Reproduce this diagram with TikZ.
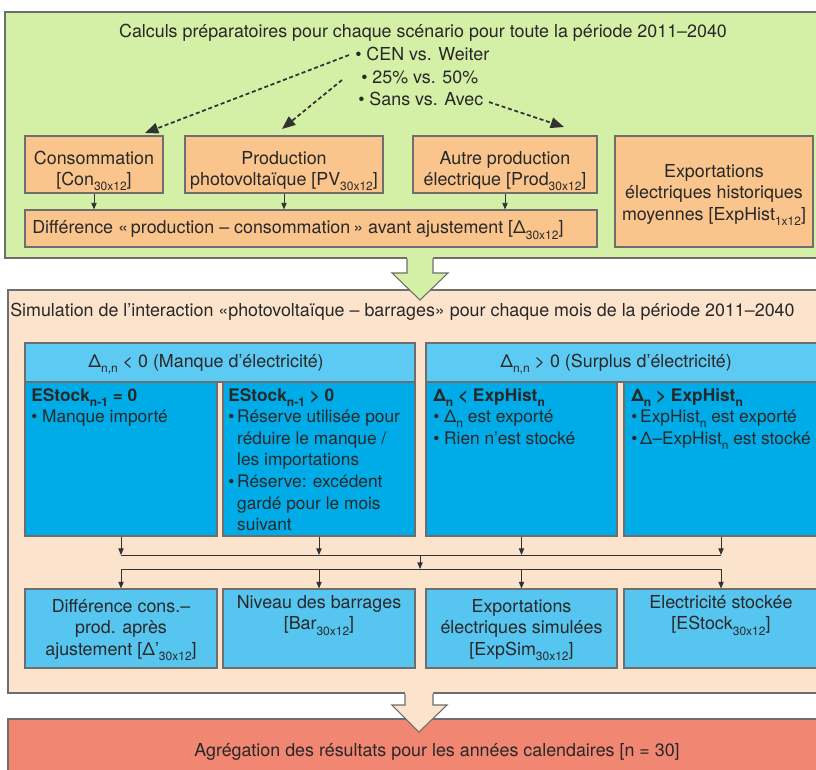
\documentclass[tikz,border=0pt]{standalone}
\usepackage{fontspec}
\setmainfont{TeX Gyre Heros}
\usetikzlibrary{arrows.meta,fit}
\definecolor{greenbg}{RGB}{212,239,166}
\definecolor{orbox}{RGB}{249,197,140}
\definecolor{peach}{RGB}{252,227,203}
\definecolor{hdrblue}{RGB}{92,202,242}
\definecolor{darkblue}{RGB}{0,172,232}
\definecolor{lblue}{RGB}{86,197,240}
\definecolor{redbg}{RGB}{241,134,114}
\definecolor{edgec}{RGB}{110,110,110}
\definecolor{txtc}{RGB}{40,40,40}
\definecolor{dashc}{RGB}{50,50,50}
\newcommand\fs{\fontsize{13.4}{16.2}\selectfont}
\newcommand\fsd{\fontsize{13}{16.2}\selectfont}
\newcommand\mysub[1]{\raisebox{-0.55ex}{\fontsize{9}{9}\selectfont #1}}
\begin{document}
\begin{tikzpicture}[x=0.75pt,y=-0.75pt,
  panel/.style={draw=edgec,line width=0.8pt,inner sep=0pt},
  obox/.style={draw=edgec,line width=0.8pt,fill=orbox,inner sep=0pt},
  hbox/.style={draw=edgec,line width=0.8pt,fill=hdrblue,inner sep=0pt},
  dbox/.style={draw=edgec,line width=0.8pt,fill=darkblue,inner sep=0pt},
  bbox/.style={draw=edgec,line width=0.8pt,fill=lblue,inner sep=0pt},
  txt/.style={inner sep=0pt,font=\fs,text=txtc,align=left},
  ctxt/.style={inner sep=0pt,font=\fs,text=txtc,align=center},
  dtxt/.style={inner sep=0pt,font=\fsd,text=txtc,align=left,anchor=north west},
  sarrow/.style={draw=dashc,line width=0.7pt,-{Triangle[length=5pt,width=4pt]}},
  sline/.style={draw=dashc,line width=0.7pt},
  darrow/.style={draw=dashc,line width=1.3pt,dash pattern=on 3pt off 2pt,-{Triangle[length=10pt,width=8pt]}}
]
\useasboundingbox (0,0) rectangle (816,769);
\clip (0,0) rectangle (816,769);
\fill[white] (0,0) rectangle (816,769);

% ---------- green panel ----------
\node[panel,fill=greenbg,fit={(5,12) (830,258)}] (green) {};
\node[txt] (title1) at (423,33) {Calculs préparatoires pour chaque scénario pour toute la période 2011–2040};
\node[txt,anchor=west] (b1) at (355,54) {• CEN vs. Weiter};
\node[txt,anchor=west] (b2) at (361,77) {• 25\% vs. 50\%};
\node[txt,anchor=west] (b3) at (358,99) {• Sans vs. Avec};

\node[obox,fit={(25,136) (163,193)}] (con) {};
\node[obox,fit={(185,136) (383,193)}] (pv) {};
\node[obox,fit={(413,136) (597,193)}] (prod) {};
\node[obox,fit={(615,136) (813,247)}] (exp) {};
\node[obox,fit={(25,210) (597,247)}] (diff) {};
\node[ctxt] (cont) at (94,171) {Consommation\\{}[Con\mysub{30x12}]};
\node[ctxt] (pvt) at (284,171) {Production\\photovoltaïque [PV\mysub{30x12}]};
\node[ctxt] (prodt) at (505,171) {Autre production\\électrique [Prod\mysub{30x12}]};
\node[ctxt] (expt) at (714,195) {Exportations\\électriques historiques\\moyennes [ExpHist\mysub{1x12}]};
\node[txt,anchor=west] (difft) at (32,230) {Différence «\,production – consommation\,» avant ajustement [Δ\mysub{30x12}]};

\draw[sarrow] (con.south) -- (con.south |- diff.north);
\draw[sarrow] (pv.south) -- (pv.south |- diff.north);
\draw[sarrow] (prod.south) -- (prod.south |- diff.north);

\coordinate (s1) at (349,55);
\coordinate (e1) at (145,133);
\coordinate (s2) at (342,80);
\coordinate (e2) at (282,129);
\coordinate (s3) at (489,102);
\coordinate (e3) at (564,127);
\draw[darrow] (s1) -- (e1);
\draw[darrow] (s2) -- (e2);
\draw[darrow] (s3) -- (e3);

% ---------- orange panel ----------
\node[panel,fill=peach,fit={(8,290) (830,693)}] (orange) {};
\node[txt,anchor=west] (title2) at (10,312) {Simulation de l’interaction «photovoltaïque – barrages» pour chaque mois de la période 2011–2040};

% big arrow 1
\fill[greenbg] (407,256) -- (407,273) -- (392,273) -- (420,300) -- (448,273) -- (433,273) -- (433,256) -- cycle;
\draw[edgec,line width=0.8pt] (407,258.5) -- (407,273) -- (392,273) -- (420,300) -- (448,273) -- (433,273) -- (433,258.5);

\node[hbox,fit={(25,343) (415,382)}] (hl) {};
\node[txt] (hlt) at (206,364) {Δ\mysub{n,n} < 0 (Manque d’électricité)};
\node[hbox,fit={(426,343) (818,382)}] (hr) {};
\node[txt] (hrt) at (616,364) {Δ\mysub{n,n} > 0 (Surplus d’électricité)};

\node[dbox,fit={(25,382) (217,536)}] (d1) {};
\node[dbox,fit={(223,382) (415,536)}] (d2) {};
\node[dbox,fit={(426,382) (617,536)}] (d3) {};
\node[dbox,fit={(624,382) (818,536)}] (d4) {};

\node[dtxt] (d1t) at (31,388) {\textbf{EStock\mysub{n-1} = 0}\\• Manque importé};
\node[dtxt] (d2t) at (228,388) {\textbf{EStock\mysub{n-1} > 0}\\•\,Réserve utilisée pour\\\hphantom{•\,}réduire le manque /\\\hphantom{•\,}les importations\\•\,Réserve: excédent\\\hphantom{•\,}gardé pour le mois\\\hphantom{•\,}suivant};
\node[dtxt] (d3t) at (433,388) {\textbf{Δ\mysub{n} < ExpHist\mysub{n}}\\• Δ\mysub{n} est exporté\\• Rien n’est stocké};
\node[dtxt] (d4t) at (631,388) {\textbf{Δ\mysub{n} > ExpHist\mysub{n}}\\•\,ExpHist\mysub{n} est exporté\\•\,Δ–ExpHist\mysub{n} est stocké};

\coordinate (busA) at (420,555);
\coordinate (busB) at (420,569);

\node[bbox,fit={(25,589) (217,668)}] (r1) {};
\node[bbox,fit={(223,589) (415,668)}] (r2) {};
\node[bbox,fit={(426,589) (617,668)}] (r3) {};
\node[bbox,fit={(624,589) (818,668)}] (r4) {};
\node[ctxt] (r1t) at (121,630) {Différence cons.–\\prod. après\\ajustement [Δ’\mysub{30x12}]};
\node[ctxt,anchor=north] (r2t) at (319,595) {Niveau des barrages\\{}[Bar\mysub{30x12}]};
\node[ctxt] (r3t) at (521.5,630) {Exportations\\électriques simulées\\{}[ExpSim\mysub{30x12}]};
\node[ctxt,anchor=north] (r4t) at (721,595) {Electricité stockée\\{}[EStock\mysub{30x12}]};

\foreach \n in {d1,d2,d3,d4} \draw[sarrow] (\n.south) -- (\n.south |- busA);
\draw[sline] (d1.south |- busA) -- (d4.south |- busA);
\draw[sarrow] (busA) -- (busB);
\draw[sline] (r1.north |- busB) -- (r4.north |- busB);
\foreach \n in {r1,r2,r3,r4} \draw[sarrow] (\n.north |- busB) -- (\n.north);

% ---------- red panel ----------
\node[panel,fill=redbg,fit={(8,719) (830,790)}] (red) {};
\fill[peach] (405,692) -- (405,705) -- (392,705) -- (419,732) -- (447,705) -- (433,705) -- (433,692) -- cycle;
\draw[edgec,line width=0.8pt] (405,693.8) -- (405,705) -- (392,705) -- (419,732) -- (447,705) -- (433,705) -- (433,693.8);
\node[txt] (redt) at (437,752) {Agrégation des résultats pour les années calendaires [n = 30]};
\end{tikzpicture}
\end{document}
